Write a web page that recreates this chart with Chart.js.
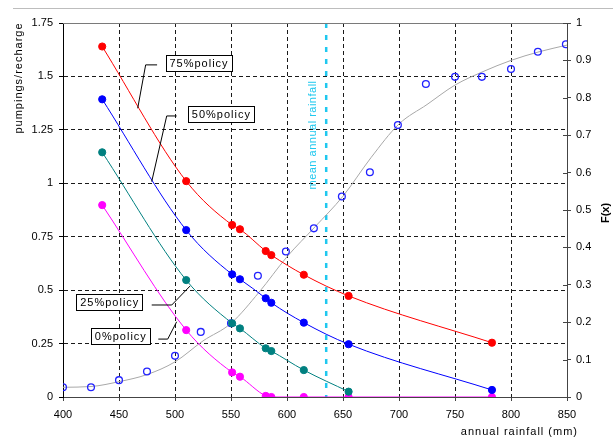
<!DOCTYPE html>
<html>
<head>
<meta charset="utf-8">
<script src="https://cdn.jsdelivr.net/npm/chart.js@4.4.0/dist/chart.umd.min.js"></script>
<style>
  html, body { margin: 0; padding: 0; background: #fff; }
  #wrap { width: 615px; height: 437px; }
</style>
</head>
<body>
<div id="wrap"><canvas id="chart" width="615" height="437"></canvas></div>
<script>
// rainfall (mm) at which the policy ratios were computed
const policyRain = [435, 510, 551, 558, 581, 586, 615, 655, 783];
// pumpings / recharge per policy
const policy75 = [1.64, 1.01, 0.805, 0.785, 0.683, 0.664, 0.572, 0.473, 0.254];
const policy50 = [1.393, 0.781, 0.574, 0.551, 0.462, 0.441, 0.348, 0.247, 0.033];
const policy25 = [1.145, 0.547, 0.345, 0.321, 0.228, 0.215, 0.126, 0.025];
const policy0 = [0.898, 0.313, 0.115, 0.095, 0.005, 0, 0, 0, 0];

// observed rainfall distribution F(x)
const obsRain = [400, 425, 450, 475, 500, 523, 550, 574, 599, 624, 649, 674, 699, 724, 750, 774, 800, 824, 849];
const obsF = [0.026, 0.026, 0.045, 0.068, 0.110, 0.174, 0.197, 0.324, 0.389, 0.451, 0.536, 0.601, 0.727, 0.837, 0.856, 0.856, 0.877, 0.923, 0.943];

// fitted distribution curve
const fitRain = [400, 425, 450, 475, 500, 525, 550, 575, 600, 625, 650, 675, 700, 725, 750, 775, 800, 825, 850];
const fitF = [0.026, 0.028, 0.041, 0.060, 0.094, 0.150, 0.197, 0.280, 0.375, 0.455, 0.537, 0.640, 0.730, 0.782, 0.834, 0.870, 0.900, 0.923, 0.941];

const meanRain = 635;

// tick labels
const xTicks = [400, 450, 500, 550, 600, 650, 700, 750, 800, 850];
const yTicks = [0, 0.25, 0.5, 0.75, 1, 1.25, 1.5, 1.75];
const fTicks = [0, 0.1, 0.2, 0.3, 0.4, 0.5, 0.6, 0.7, 0.8, 0.9, 1];

// callout boxes (data units) and their leader lines
const notes = [
    { text: '75%policy', cx: 521, cy: 1.565, leader: [[484, 1.554], [473.8, 1.554], [466.7, 1.351]] },
    { text: '50%policy', cx: 541, cy: 1.326, leader: [[501.5, 1.315], [492.6, 1.315], [479.2, 1.008]] },
    { text: '25%policy', cx: 441.3, cy: 0.446, leader: [[479.2, 0.4305], [497.1, 0.4305], [513.4, 0.519]] },
    { text: '0%policy', cx: 451.2, cy: 0.284, leader: [[485.1, 0.271], [493.5, 0.271], [501.5, 0.352]] }
];

const FONT = '"Liberation Sans", Arial, sans-serif';

function pts(xs, ys) {
    return ys.map((y, i) => ({ x: xs[i], y: y }));
}

function policySet(label, ys, color) {
    return {
        label: label,
        data: pts(policyRain, ys),
        yAxisID: 'y',
        showLine: true,
        borderColor: color,
        backgroundColor: color,
        borderWidth: 1,
        pointRadius: 3.6,
        pointBorderWidth: 1,
        pointBorderColor: color,
        pointBackgroundColor: color,
        cubicInterpolationMode: 'monotone'
    };
}

const tickFont = { family: FONT, size: 11 };

const decor = {
    id: 'decor',
    beforeDatasetsDraw(chart) {
        const { ctx, chartArea: a, scales: { x } } = chart;
        const mx = x.getPixelForValue(meanRain);
        ctx.save();
        ctx.strokeStyle = '#1fc8ef';
        ctx.lineWidth = 2.5;
        ctx.setLineDash([5, 7]);
        ctx.beginPath();
        ctx.moveTo(mx, a.top);
        ctx.lineTo(mx, a.bottom);
        ctx.stroke();
        ctx.restore();

        ctx.save();
        ctx.translate(mx - 13, 135);
        ctx.rotate(-Math.PI / 2);
        ctx.fillStyle = '#1fc8ef';
        ctx.font = '11px ' + FONT;
        ctx.letterSpacing = '0.5px';
        ctx.textAlign = 'center';
        ctx.textBaseline = 'middle';
        ctx.fillText('mean annual rainfall', 0, 0);
        ctx.restore();
    },
    afterDraw(chart) {
        const { ctx, chartArea: a, scales: { x, y, y1 } } = chart;
        ctx.save();
        // page rule and top frame
        ctx.strokeStyle = '#bdbdbd';
        ctx.lineWidth = 1;
        ctx.beginPath();
        ctx.moveTo(13, 8.5);
        ctx.lineTo(613, 8.5);
        ctx.stroke();
        ctx.strokeStyle = '#7a7a7a';
        ctx.beginPath();
        ctx.moveTo(a.left, a.top + 0.5);
        ctx.lineTo(a.right, a.top + 0.5);
        ctx.stroke();
        // inner half of the right-axis ticks
        ctx.strokeStyle = '#444';
        fTicks.forEach(v => {
            const py = Math.round(y1.getPixelForValue(v)) + 0.5;
            ctx.beginPath();
            ctx.moveTo(a.right - 4, py);
            ctx.lineTo(a.right, py);
            ctx.stroke();
        });

        // callouts
        ctx.font = '11px ' + FONT;
        ctx.letterSpacing = '1px';
        ctx.textAlign = 'center';
        ctx.textBaseline = 'middle';
        notes.forEach(n => {
            ctx.strokeStyle = '#000';
            ctx.lineWidth = 1;
            ctx.beginPath();
            n.leader.forEach((p, i) => {
                const px = x.getPixelForValue(p[0]);
                const py = y.getPixelForValue(p[1]);
                if (i === 0) ctx.moveTo(px, py); else ctx.lineTo(px, py);
            });
            ctx.stroke();
            const cx = x.getPixelForValue(n.cx);
            const cy = y.getPixelForValue(n.cy);
            const w = Math.round(ctx.measureText(n.text).width + 7);
            const h = 16;
            const bx = Math.round(cx - w / 2) + 0.5;
            const by = Math.round(cy - h / 2) + 0.5;
            ctx.fillStyle = '#fff';
            ctx.fillRect(bx, by, w, h);
            ctx.strokeRect(bx, by, w, h);
            ctx.fillStyle = '#000';
            ctx.fillText(n.text, cx + 0.5, cy + 1);
        });

        // axis titles
        ctx.fillStyle = '#000';
        ctx.save();
        ctx.translate(19, 78);
        ctx.rotate(-Math.PI / 2);
        ctx.fillText('pumpings/recharge', 0, 0);
        ctx.restore();
        ctx.textAlign = 'right';
        ctx.fillText('annual rainfall (mm)', 578, 432);
        ctx.save();
        ctx.translate(606, 213);
        ctx.rotate(-Math.PI / 2);
        ctx.letterSpacing = '0px';
        ctx.textAlign = 'center';
        ctx.font = 'bold 11px ' + FONT;
        ctx.fillText('F(x)', 0, 0);
        ctx.restore();
        ctx.restore();
    }
};

function edgeGrid(lo, hi) {
    return ctx => (ctx.tick && (ctx.tick.value === lo || ctx.tick.value === hi)) ? 'rgba(0,0,0,0)' : '#1a1a1a';
}

new Chart(document.getElementById('chart'), {
    type: 'scatter',
    data: {
        datasets: [
            policySet('75%policy', policy75, '#ff0000'),
            policySet('50%policy', policy50, '#0000ff'),
            policySet('25%policy', policy25, '#008080'),
            policySet('0%policy', policy0, '#ff00ff'),
            {
                label: 'F(x) observed',
                data: pts(obsRain, obsF),
                yAxisID: 'y1',
                showLine: false,
                pointRadius: 3.4,
                pointBorderWidth: 1.3,
                pointBorderColor: '#2222ff',
                pointBackgroundColor: 'rgba(0,0,0,0)'
            },
            {
                label: 'F(x) fitted',
                data: pts(fitRain, fitF),
                yAxisID: 'y1',
                showLine: true,
                borderColor: '#a8a8a8',
                borderWidth: 1,
                pointRadius: 0,
                cubicInterpolationMode: 'monotone'
            }
        ]
    },
    options: {
        responsive: false,
        animation: false,
        devicePixelRatio: 1,
        layout: { padding: { top: 23, left: 0, right: 0, bottom: 0 } },
        plugins: {
            legend: { display: false },
            tooltip: { enabled: false }
        },
        scales: {
            x: {
                type: 'linear',
                min: 400,
                max: 850,
                afterBuildTicks: axis => { axis.ticks = xTicks.map(v => ({ value: v })); },
                afterFit: axis => { axis.height = 40; },
                ticks: {
                    color: '#000',
                    font: tickFont,
                    padding: 7,
                    maxRotation: 0,
                    autoSkip: false,
                    callback: v => String(v)
                },
                grid: {
                    color: edgeGrid(400, 850),
                    lineWidth: 1,
                    tickLength: 4,
                    tickColor: '#444'
                },
                border: { color: '#444', width: 1, dash: [4, 3] }
            },
            y: {
                position: 'left',
                min: 0,
                max: 1.75,
                afterBuildTicks: axis => { axis.ticks = yTicks.map(v => ({ value: v })); },
                afterFit: axis => { axis.width = 63; },
                ticks: {
                    color: '#000',
                    font: tickFont,
                    padding: 6,
                    autoSkip: false,
                    callback: v => String(v)
                },
                grid: {
                    color: edgeGrid(0, 1.75),
                    lineWidth: 1,
                    tickLength: 4,
                    tickColor: '#000'
                },
                border: { color: '#000', width: 1, dash: [4, 3] }
            },
            y1: {
                position: 'right',
                min: 0,
                max: 1,
                afterBuildTicks: axis => { axis.ticks = fTicks.map(v => ({ value: v })); },
                afterFit: axis => { axis.width = 48; },
                ticks: {
                    color: '#000',
                    font: tickFont,
                    padding: 5,
                    autoSkip: false,
                    callback: v => String(v)
                },
                grid: {
                    drawOnChartArea: false,
                    tickLength: 4,
                    tickColor: '#444'
                },
                border: { color: '#444', width: 1 }
            }
        }
    },
    plugins: [decor]
});
</script>
</body>
</html>
